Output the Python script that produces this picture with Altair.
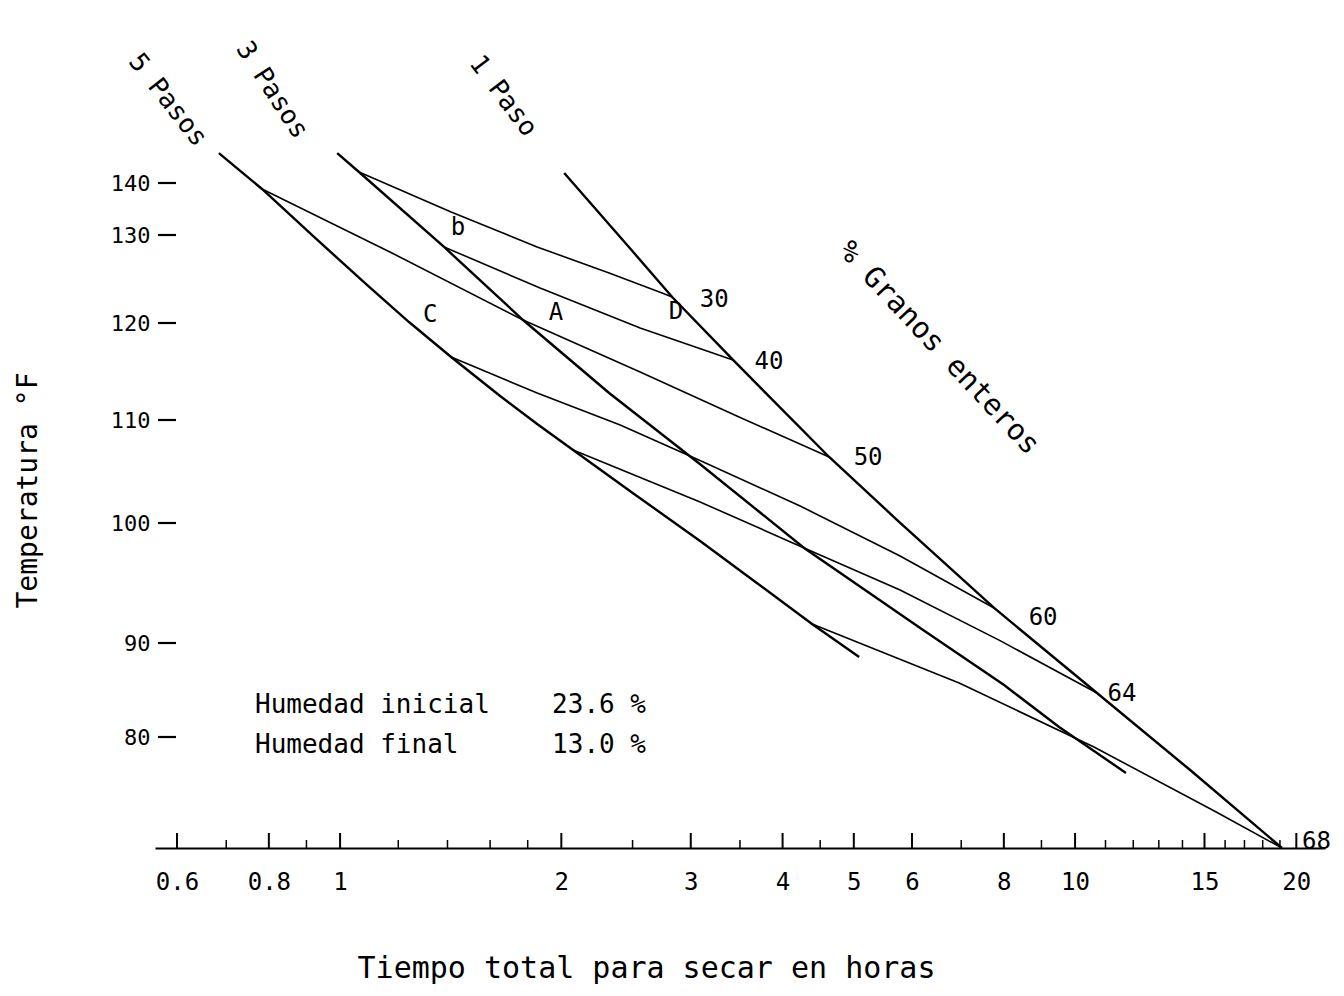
import altair as alt
import pandas as pd

# ---- Curves: total drying time (h) vs temperature (°F) ----
paso5_h = [0.684, 0.783, 0.928, 1.085, 1.241, 1.416, 1.651, 1.854, 2.075, 2.512, 3.089, 3.659, 4.387, 5.084]
paso5_t = [145.7, 138.85, 129.55, 124.43, 120.11, 116.49, 112.47, 109.61, 107.09, 102.82, 98.5, 95.17, 91.58, 88.51]
paso3_h = [0.991, 1.061, 1.385, 1.774, 2.323, 3.099, 4.279, 6.212, 8.006, 9.511, 11.73]
paso3_t = [145.7, 142.1, 128.64, 120.34, 112.78, 105.63, 97.92, 91.08, 85.53, 81.06, 76.11]
paso1_h = [2.018, 2.512, 2.830, 3.425, 4.628, 5.727, 7.759, 10.71, 14.34, 19.12]
paso1_t = [141.9, 127.95, 122.95, 116.19, 106.41, 100.29, 92.92, 84.68, 76.43, 68.0]

# ---- Iso-lines of % whole grains ----
g30_h = [1.061, 1.416, 1.854, 2.323, 2.742, 2.830]
g30_t = [142.1, 134.42, 128.64, 125.68, 123.41, 122.95]
g40_h = [1.385, 1.871, 2.560, 3.425]
g40_t = [128.64, 123.98, 119.48, 116.19]
g50_h = [0.783, 1.169, 1.774, 2.560, 3.490, 4.628]
g50_t = [138.85, 128.07, 120.34, 114.95, 110.31, 106.41]
g60_h = [1.416, 1.854, 2.405, 3.099, 4.226, 5.780, 7.759]
g60_t = [116.49, 112.78, 109.51, 106.02, 101.65, 97.25, 92.92]
g64_h = [2.075, 3.089, 4.279, 5.780, 7.906, 10.71]
g64_t = [107.09, 102.04, 97.92, 94.42, 90.2, 84.68]
g68_h = [4.387, 6.955, 10.61, 15.56, 19.12]
g68_t = [91.58, 85.74, 78.92, 71.89, 68.0]

# ---- Labels ----
iso_text = ["30", "40", "50", "60", "64", "68", "b", "C", "A", "D"]
iso_h = [3.228, 3.834, 5.229, 9.047, 11.585, 21.3, 1.447, 1.326, 1.967, 2.865]
iso_t = [122.61, 115.98, 106.31, 92.08, 84.57, 68.6, 131.35, 120.91, 121.14, 121.25]

rot_text = ["5 Pasos", "3 Pasos", "1 Paso"]
rot_h = [0.583, 0.808, 1.667]
rot_t = [155.84, 157.74, 156.6]
rot_angle = [52, 57, 53]

granos_text = ["% Granos enteros"]
granos_h = [6.531]
granos_t = [117.42]
granos_angle = [47]

leg_text = ["Humedad inicial", "23.6 %", "Humedad final", "13.0 %"]
leg_h = [0.766, 1.943, 0.766, 1.943]
leg_t = [83.40, 83.40, 79.14, 79.14]

x_tick_values = [0.6, 0.8, 1, 2, 3, 4, 5, 6, 8, 10, 15, 20]
x_minor_values = [0.7, 0.9, 1.2, 1.4, 1.6, 1.8, 2.5, 3.5, 4.5, 7, 9, 11, 12, 13, 14, 16, 17, 18, 19]
y_tick_values = [80, 90, 100, 110, 120, 130, 140]

FONT = "DejaVu Sans Mono"

def series(name, hs, ts):
    return pd.DataFrame({"serie": name, "horas": hs, "temp": ts,
                         "idx": list(range(len(hs)))})

curves_df = pd.concat([
    series("5 Pasos", paso5_h, paso5_t),
    series("3 Pasos", paso3_h, paso3_t),
    series("1 Paso", paso1_h, paso1_t),
])
iso_df = pd.concat([
    series("30", g30_h, g30_t),
    series("40", g40_h, g40_t),
    series("50", g50_h, g50_t),
    series("60", g60_h, g60_t),
    series("64", g64_h, g64_t),
    series("68", g68_h, g68_t),
])

x_scale = alt.Scale(type="log", domain=[0.56, 21.88], nice=False)
y_scale = alt.Scale(domain=[68, 80, 90, 100, 110, 120, 130, 140, 173],
                    range=[838, 727, 633, 513, 410, 313, 225, 173, 0],
                    nice=False, zero=False)

x_axis = alt.Axis(values=x_tick_values,
                  labelExpr="datum.value < 1 ? format(datum.value, '.1f') : format(datum.value, 'd')",
                  ticks=False, tickSize=0, domain=True, domainColor="black", domainWidth=2,
                  grid=False, labelFont=FONT, labelFontSize=24, labelColor="black",
                  labelPadding=22, labelFlush=False, labelOverlap=False,
                  title="Tiempo total para secar en horas", titleFont=FONT, titleFontSize=30,
                  titleFontWeight="normal", titleColor="black",
                  titleX=491, titleY=120, titleAlign="center", titleBaseline="middle")
y_axis = alt.Axis(values=y_tick_values, ticks=False, tickSize=0, domain=False, grid=False,
                  labelFont=FONT, labelFontSize=22, labelColor="black", labelPadding=5,
                  labelFlush=False, labelOverlap=False,
                  title="Temperatura °F", titleFont=FONT, titleFontSize=28,
                  titleFontWeight="normal", titleColor="black",
                  titleX=-127, titleY=480, titleAngle=270, titleAlign="center",
                  titleBaseline="middle")

curves = alt.Chart(curves_df).mark_line(color="black", strokeWidth=2.4).encode(
    x=alt.X("horas:Q", scale=x_scale, axis=x_axis),
    y=alt.Y("temp:Q", scale=y_scale, axis=y_axis),
    detail="serie:N",
    order="idx:Q",
)
isolines = alt.Chart(iso_df).mark_line(color="black", strokeWidth=1.6).encode(
    x=alt.X("horas:Q", scale=x_scale),
    y=alt.Y("temp:Q", scale=y_scale),
    detail="serie:N",
    order="idx:Q",
)

xt_major = alt.Chart(pd.DataFrame({"horas": x_tick_values})).mark_rule(
    color="black", strokeWidth=2).encode(
    x=alt.X("horas:Q", scale=x_scale), y=alt.value(838), y2=alt.value(823))
xt_minor = alt.Chart(pd.DataFrame({"horas": x_minor_values})).mark_rule(
    color="black", strokeWidth=1.5).encode(
    x=alt.X("horas:Q", scale=x_scale), y=alt.value(838), y2=alt.value(830))
yt_major = alt.Chart(pd.DataFrame({"temp": y_tick_values})).mark_rule(
    color="black", strokeWidth=2.2).encode(
    y=alt.Y("temp:Q", scale=y_scale), x=alt.value(3), x2=alt.value(21))

iso_labels = alt.Chart(pd.DataFrame({"txt": iso_text, "horas": iso_h, "temp": iso_t})).mark_text(
    font=FONT, fontSize=24, color="black", align="center", baseline="middle").encode(
    x=alt.X("horas:Q", scale=x_scale), y=alt.Y("temp:Q", scale=y_scale), text="txt:N")

rot_labels = alt.Chart(pd.DataFrame({"txt": rot_text, "horas": rot_h, "temp": rot_t,
                                     "ang": rot_angle})).mark_text(
    font=FONT, fontSize=26, color="black", align="center", baseline="middle").encode(
    x=alt.X("horas:Q", scale=x_scale), y=alt.Y("temp:Q", scale=y_scale), text="txt:N",
    angle=alt.Angle("ang:Q", scale=None))

granos_label = alt.Chart(pd.DataFrame({"txt": granos_text, "horas": granos_h, "temp": granos_t,
                                       "ang": granos_angle})).mark_text(
    font=FONT, fontSize=29, color="black", align="center", baseline="middle").encode(
    x=alt.X("horas:Q", scale=x_scale), y=alt.Y("temp:Q", scale=y_scale), text="txt:N",
    angle=alt.Angle("ang:Q", scale=None))

legend = alt.Chart(pd.DataFrame({"txt": leg_text, "horas": leg_h, "temp": leg_t})).mark_text(
    font=FONT, fontSize=26, color="black", align="left", baseline="middle").encode(
    x=alt.X("horas:Q", scale=x_scale), y=alt.Y("temp:Q", scale=y_scale), text="txt:N")

chart = alt.layer(curves, isolines, xt_major, xt_minor, yt_major,
                  iso_labels, rot_labels, granos_label, legend).properties(
    width=1170, height=838,
    autosize=alt.AutoSizeParams(type="none"),
    padding={"left": 155, "top": 10, "right": 19, "bottom": 148},
    background="white",
).configure_view(stroke=None)

chart.save("out.html", embed_options={"renderer": "svg", "actions": False})
